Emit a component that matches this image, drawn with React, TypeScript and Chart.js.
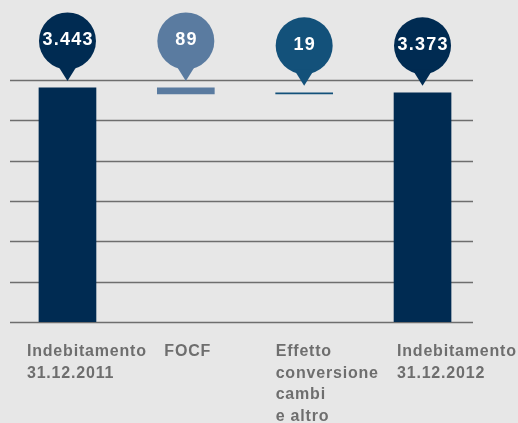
import React, { useEffect, useRef } from "react";
import { Chart, registerables } from "chart.js";

Chart.register(...registerables);

// ---- data ----
const categories: string[][] = [
  ["Indebitamento", "31.12.2011"],
  ["FOCF"],
  ["Effetto", "conversione", "cambi", "e altro"],
  ["Indebitamento", "31.12.2012"],
];
const values: number[] = [3443, 89, 19, 3373];
const kinds: string[] = ["total", "decrease", "increase", "total"];
const yMax = 3560;
const gridIntervals = 6;

// ---- styles ----
const BG = "#e7e7e7";
const GRID = "#6e6e6e";
const LABEL = "#6e6e6e";
const barColors = ["#002b52", "#5a7ba0", "#13517a", "#002b52"];
const labelOffsets = [-40.5, -21.5, -28.5, -25.5];

const fmt = (v: number) => String(Math.abs(v)).replace(/\B(?=(\d{3})+(?!\d))/g, ".");

function buildRanges(): [number, number][] {
  let running = 0;
  return values.map((v, i) => {
    const k = kinds[i];
    if (k === "total") {
      running = v;
      return [0, v] as [number, number];
    }
    if (k === "decrease") {
      const r: [number, number] = [running - v, running];
      running -= v;
      return r;
    }
    const r: [number, number] = [running, running + v];
    running += v;
    return r;
  });
}

const overlay = {
  id: "overlay",
  beforeDatasetsDraw(chart: any) {
    const { ctx, chartArea, scales } = chart;
    const y = scales.y;
    ctx.save();
    ctx.strokeStyle = GRID;
    ctx.lineWidth = 1.3;
    for (let k = 0; k <= gridIntervals; k++) {
      const v = (yMax * k) / gridIntervals;
      const py = Math.round(y.getPixelForValue(v)) + 0.5;
      ctx.beginPath();
      ctx.moveTo(chartArea.left + 1.7, py);
      ctx.lineTo(chartArea.right - 8.7, py);
      ctx.stroke();
    }
    ctx.restore();
  },
  afterDatasetsDraw(chart: any) {
    const { ctx, chartArea, scales } = chart;
    const meta = chart.getDatasetMeta(0);
    const xs = scales.x;
    ctx.save();
    meta.data.forEach((bar: any, i: number) => {
      const { x, y, base } = bar.getProps(["x", "y", "base"], true);
      const top = Math.min(y, base);
      const tip = top - 7;
      const cy = tip - 40;
      const r = 28.5;
      ctx.fillStyle = barColors[i];
      ctx.beginPath();
      ctx.arc(x, cy, r, 0, Math.PI * 2);
      ctx.fill();
      ctx.beginPath();
      ctx.moveTo(x - 10, cy + 24);
      ctx.lineTo(x + 10, cy + 24);
      ctx.lineTo(x, tip);
      ctx.closePath();
      ctx.fill();
      ctx.fillStyle = "#ffffff";
      ctx.font = 'bold 18px "Liberation Sans", Arial, sans-serif';
      (ctx as any).letterSpacing = "1.2px";
      ctx.textAlign = "center";
      ctx.textBaseline = "middle";
      ctx.fillText(fmt(values[i]), x + 0.6, cy - 1);
    });
    ctx.fillStyle = LABEL;
    ctx.font = 'bold 16px "Liberation Sans", Arial, sans-serif';
    (ctx as any).letterSpacing = "0.8px";
    ctx.textAlign = "left";
    ctx.textBaseline = "alphabetic";
    categories.forEach((lines, i) => {
      const px = xs.getPixelForValue(i) + labelOffsets[i];
      lines.forEach((ln, j) => {
        ctx.fillText(ln, px, chartArea.bottom + 34 + j * 21.7);
      });
    });
    ctx.restore();
  },
};

export default function App() {
  const ref = useRef<HTMLCanvasElement>(null);
  useEffect(() => {
    if (!ref.current) return;
    const chart = new Chart(ref.current, {
      type: "bar",
      data: {
        labels: categories.map((c) => c.join(" ")),
        datasets: [
          {
            data: buildRanges() as any,
            backgroundColor: barColors,
            borderWidth: 0,
            barThickness: 57,
            borderSkipped: false,
          },
        ],
      },
      options: {
        animation: false,
        responsive: false,
        devicePixelRatio: 1,
        layout: { padding: { left: 8.3, right: 36.3, top: 80, bottom: 101 } },
        plugins: { legend: { display: false }, tooltip: { enabled: false } },
        scales: {
          x: { display: false, offset: true, grid: { display: false } },
          y: { display: false, min: 0, max: yMax, grid: { display: false } },
        },
      },
      plugins: [overlay],
    });
    return () => chart.destroy();
  }, []);
  return (
    <div style={{ position: "fixed", left: 0, top: 0, width: 518, height: 423, background: BG }}>
      <canvas ref={ref} width={518} height={423} style={{ display: "block" }} />
    </div>
  );
}
